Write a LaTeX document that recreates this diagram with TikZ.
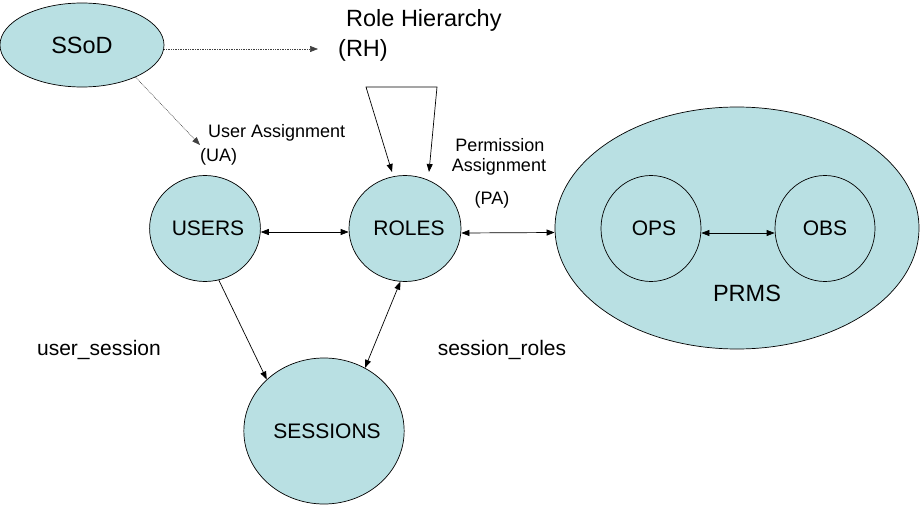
\documentclass[tikz,border=0pt]{standalone}
\usepackage{fontspec}
\setmainfont{Liberation Sans}
\usetikzlibrary{shapes.geometric,arrows.meta}
\definecolor{fillteal}{RGB}{185,224,227}
\tikzset{
  blob/.style={ellipse, draw=black, line width=0.7pt, fill=fillteal, inner sep=0pt, font=\fontsize{21}{24}\selectfont},
  bigtxt/.style={inner sep=0pt, font=\fontsize{23.5}{27}\selectfont},
  midtxt/.style={inner sep=0pt, font=\fontsize{21}{24}\selectfont},
  smalltxt/.style={inner sep=0pt, font=\fontsize{18}{21}\selectfont},
  conn/.style={line width=0.7pt, -{Triangle[length=8pt,width=6pt]}},
  biconn/.style={line width=0.7pt, {Triangle[length=8pt,width=6pt]}-{Triangle[length=8pt,width=6pt]}},
  dotconn/.style={line width=0.6pt, black!75, dash pattern=on 0.8pt off 0.9pt, -{Triangle[length=8pt,width=6pt]}}
}
\begin{document}
\begin{tikzpicture}[x=1pt,y=-1pt]
\useasboundingbox (0,0) rectangle (922,506);
% shapes
\node[blob, minimum width=164pt, minimum height=84pt, font=\fontsize{23.5}{27}\selectfont] (ssod) at (82,45) {SSoD};
\node[blob, minimum width=100pt, minimum height=106pt] (users) at (205,228.5) {\hspace*{6pt}USERS};
\node[blob, minimum width=100pt, minimum height=106pt] (roles) at (405,228.5) {\hspace*{8pt}ROLES};
\node[blob, minimum width=154pt, minimum height=146pt] (sessions) at (324,431) {\hspace*{6pt}SESSIONS};
\node[blob, minimum width=364pt, minimum height=242pt] (prms) at (737,228) {};
\node[blob, minimum width=100pt, minimum height=106pt] (ops) at (651,228.5) {\hspace*{6pt}OPS};
\node[blob, minimum width=100pt, minimum height=106pt] (obs) at (825,228.5) {OBS};
\node[bigtxt] (prmslabel) at (747,293) {PRMS};
% labels
\node[bigtxt, anchor=west] (rhtitle) at (346,20) {Role Hierarchy};
\node[bigtxt, anchor=west] (rh) at (338,50) {(RH)};
\node[smalltxt, anchor=west] (ua1) at (208,133) {User Assignment};
\node[smalltxt, anchor=west] (ua2) at (200,157) {(UA)};
\node[smalltxt] (pa1) at (500,145) {Permission};
\node[smalltxt] (pa2) at (499,167) {Assignment};
\node[smalltxt] (pa3) at (492,200) {(PA)};
\node[midtxt] (us) at (99,350) {user\_session};
\node[midtxt] (sr) at (502,350) {session\_roles};
% free ends
\coordinate (rhend) at (318,49);
\coordinate (uaend) at (200,145);
\coordinate (c1) at (366,87);
\coordinate (c2) at (437,87);
\coordinate (t1) at (392,172);
\coordinate (t2) at (429,172);
% connectors
\draw[dotconn] ([yshift=-4pt]ssod.east) -- (rhend);
\draw[dotconn] (ssod.-31) -- (uaend);
\draw[line width=0.7pt, {Triangle[length=8pt,width=6pt]}-{Triangle[length=8pt,width=6pt]}] (t1) -- (c1) -- (c2) -- (t2);
\draw[biconn] ([yshift=-3.5pt]users.east) -- ([yshift=-3.5pt]roles.west);
\draw[biconn] ([yshift=-4.5pt]roles.east) -- ([yshift=-4.5pt]prms.west);
\draw[biconn] ([yshift=-4.5pt]ops.east) -- ([yshift=-4.5pt]obs.west);
\draw[conn] (users.-75) -- (sessions.138);
\draw[biconn] (roles.-95) -- (sessions.57);
\end{tikzpicture}
\end{document}
